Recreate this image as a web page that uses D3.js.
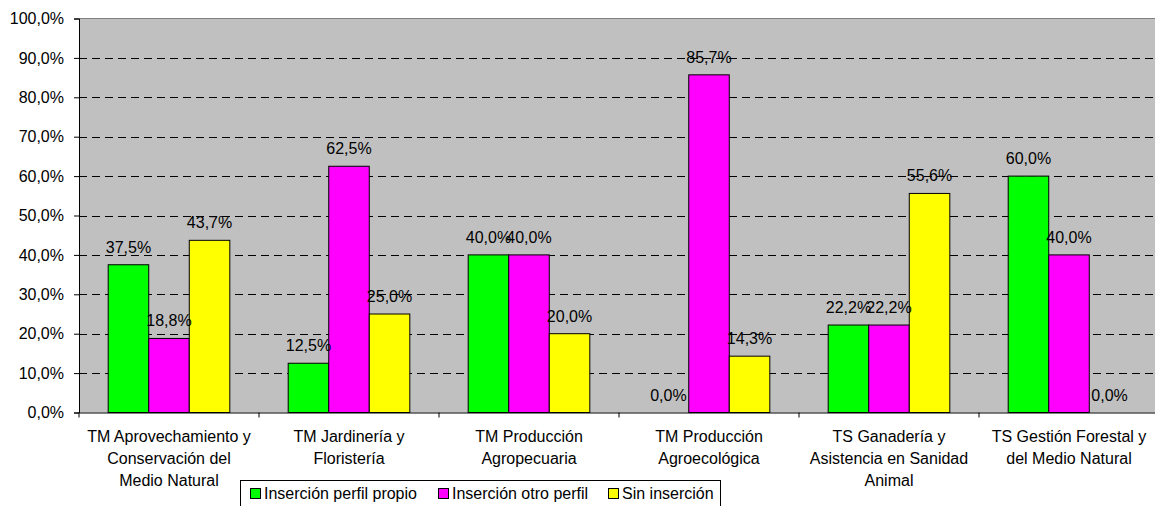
<!DOCTYPE html>
<html><head><meta charset="utf-8">
<script src="https://cdn.jsdelivr.net/npm/d3@7"></script>
<style>html,body{margin:0;padding:0;background:#fff;overflow:hidden}</style>
</head><body>
<svg id="c" width="1155" height="506"></svg>
<script>
const categories = [
  ["TM Aprovechamiento y","Conservación del","Medio Natural"],
  ["TM Jardinería y","Floristería"],
  ["TM Producción","Agropecuaria"],
  ["TM Producción","Agroecológica"],
  ["TS Ganadería y","Asistencia en Sanidad","Animal"],
  ["TS Gestión Forestal y","del Medio Natural"]
];
const seriesNames = ["Inserción perfil propio","Inserción otro perfil","Sin inserción"];
const seriesColors = ["#00ff00","#ff00ff","#ffff00"];
const propio = [37.5,12.5,40.0,0.0,22.2,60.0];
const otro = [18.8,62.5,40.0,85.7,22.2,40.0];
const sin = [43.7,25.0,20.0,14.3,55.6,0.0];
const yTicks = [0,10,20,30,40,50,60,70,80,90,100];

const series = [propio, otro, sin];
const loc = d3.formatLocale({decimal:",",thousands:".",grouping:[3],currency:["","€"]});
const fmt = v => loc.format(".1f")(v) + "%";
const font = "Liberation Sans, Arial, sans-serif";
const fs = 16;

const svg = d3.select("#c");
const L = 79, R = 1159, T = 18.5, B = 412.5;
const x = d3.scaleBand().domain(d3.range(categories.length)).range([L, R]).padding(0);
const xs = d3.scaleBand().domain(d3.range(3)).range([0, x.bandwidth()]).paddingInner(0).paddingOuter(0.72);
const y = d3.scaleLinear().domain([0,100]).range([B, T]);

svg.append("rect").attr("x",L).attr("y",T).attr("width",R-L).attr("height",B-T).attr("fill","#c0c0c0");

// gridlines
svg.append("g").selectAll("line").data(yTicks.filter(d=>d>0&&d<100)).join("line")
  .attr("x1",L).attr("x2",R).attr("y1",d=>Math.round(y(d))+0.5).attr("y2",d=>Math.round(y(d))+0.5)
  .attr("stroke","#000").attr("stroke-width",1).attr("stroke-dasharray","8,5");
// top border
svg.append("line").attr("x1",L).attr("x2",R).attr("y1",T).attr("y2",T).attr("stroke","#808080").attr("stroke-width",1);

// bars
series.forEach((vals, si) => {
  svg.append("g").selectAll("rect").data(vals).join("rect")
    .attr("x",(d,i)=>x(i)+xs(si))
    .attr("y",d=>y(d))
    .attr("width",xs.bandwidth())
    .attr("height",d=>B-y(d))
    .attr("fill",seriesColors[si]).attr("stroke","#000").attr("stroke-width",1);
});
series.forEach((vals, si) => {
  svg.append("g").selectAll("text").data(vals).join("text")
    .attr("x",(d,i)=>x(i)+xs(si)+xs.bandwidth()/2)
    .attr("y",d=>y(d)-12)
    .attr("text-anchor","middle").attr("font-family",font).attr("font-size",fs).attr("fill","#000")
    .text(d=>fmt(d));
});

// y axis
const yAxis = d3.axisLeft(y).tickValues(yTicks).tickFormat(fmt).tickSize(5).tickPadding(10);
const ga = svg.append("g").attr("transform",`translate(${L},0)`).call(yAxis);
ga.select(".domain").attr("stroke","#000");
ga.selectAll(".tick line").attr("stroke","#000");
ga.selectAll("text").attr("font-family",font).attr("font-size",fs).attr("fill","#000");

// x axis
const xAxis = d3.axisBottom(x).tickSize(0).tickFormat("");
const gx = svg.append("g").attr("transform",`translate(0,${B})`).call(xAxis);
gx.select(".domain").attr("stroke","#000");
gx.selectAll(".tick").remove();
svg.append("g").selectAll("line").data(d3.range(categories.length+1)).join("line")
  .attr("x1",i=>i<categories.length?x(i):R).attr("x2",i=>i<categories.length?x(i):R)
  .attr("y1",B).attr("y2",B+5).attr("stroke","#000");

const lab = svg.append("g").selectAll("text").data(categories).join("text")
  .attr("text-anchor","middle").attr("font-family",font).attr("font-size",fs).attr("fill","#000");
lab.each(function(lines,i){
  d3.select(this).selectAll("tspan").data(lines).join("tspan")
    .attr("x",x(i)+x.bandwidth()/2).attr("y",(d,j)=>442+j*22).text(d=>d);
});

// legend
const lg = svg.append("g");
lg.append("rect").attr("x",240.5).attr("y",480.5).attr("width",480).attr("height",30).attr("fill","#fff").attr("stroke","#000");
const lx = [250, 438, 608];
seriesNames.forEach((n,i)=>{
  lg.append("rect").attr("x",lx[i]+0.5).attr("y",488.5).attr("width",10).attr("height",10).attr("fill",seriesColors[i]).attr("stroke","#000");
  lg.append("text").attr("x",lx[i]+14).attr("y",498.5).attr("font-family",font).attr("font-size",fs).attr("fill","#000").text(n);
});
</script>
</body></html>
